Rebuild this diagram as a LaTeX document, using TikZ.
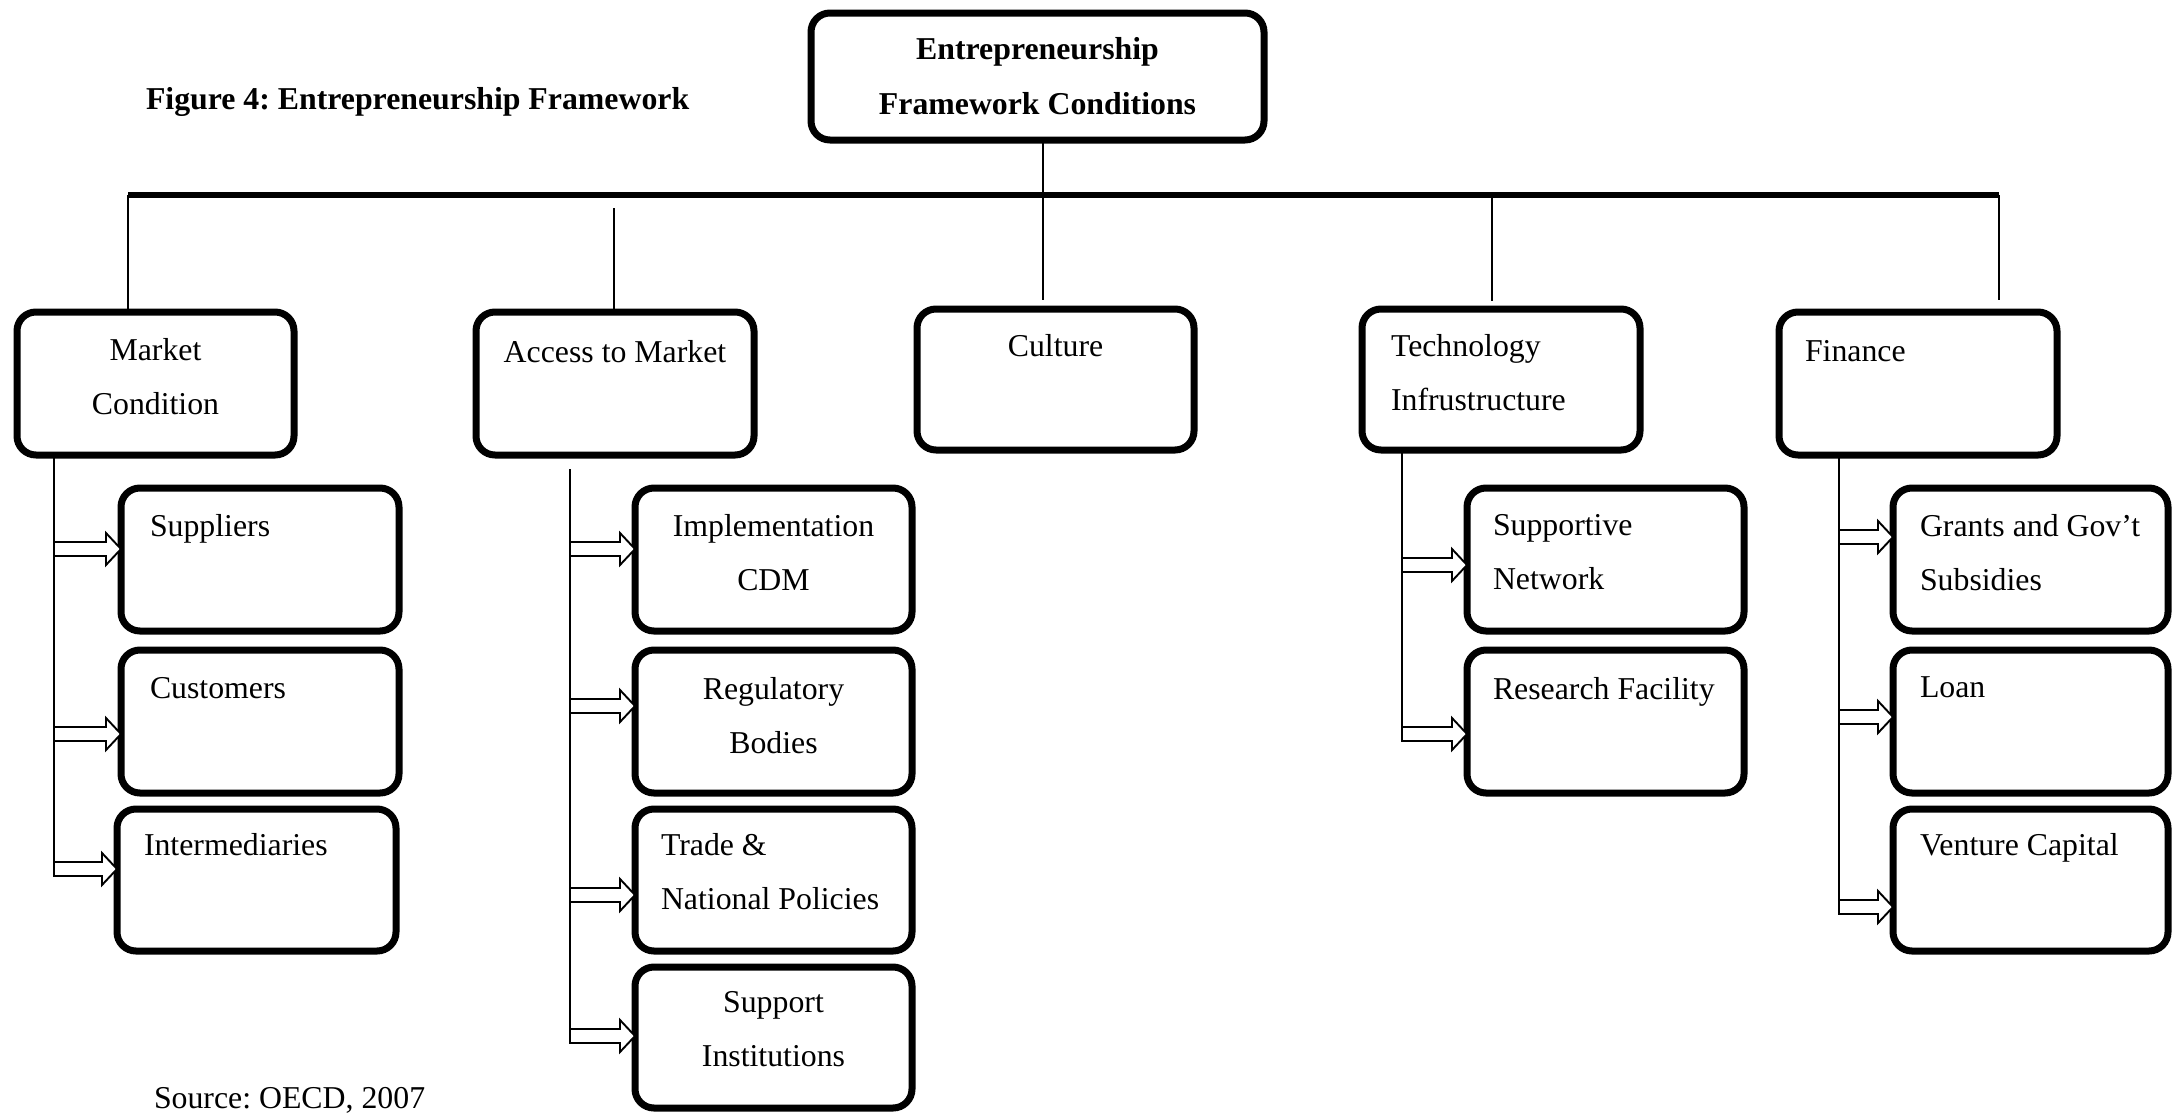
\documentclass[tikz,border=0pt]{standalone}
\usepackage{fontspec}
\setmainfont{Liberation Serif}
\usetikzlibrary{calc}
\frenchspacing
\tikzset{
  box/.style={draw, line width=7pt, rounded corners=19pt, inner sep=0pt, outer sep=0pt, anchor=north west},
  txt/.style={inner sep=0pt, outer sep=0pt, font=\fontsize{31.8}{54}\selectfont},
  conn/.style={line width=2pt},
  busline/.style={line width=5.5pt},
  arr/.style={draw, line width=1.9pt, fill=white, line join=miter},
}
\newcommand\bx[5]{\node[box, minimum width=#4pt, minimum height=#5pt] (#1) at (#2,#3) {};}
\newcommand\harrow[3]{%
  \coordinate (ay) at (0,#3);
  \coordinate (tip) at (#2.west |- ay);
  \draw[arr] ($(#1 |- ay)+(0,-7)$) -- ($(tip)+(-15,-7)$) -- ($(tip)+(-15,-16)$) -- (tip)
    -- ($(tip)+(-15,16)$) -- ($(tip)+(-15,7)$) -- ($(#1 |- ay)+(0,7)$) -- cycle;}
\begin{document}
\begin{tikzpicture}[x=1pt,y=-1pt]
\useasboundingbox (0,0) rectangle (2174,1114);
\clip (0,0) rectangle (2174,1114);

% title
\node[txt, anchor=north west, font=\fontsize{31.8}{54}\selectfont\bfseries] (title) at (146,87) {Figure 4: Entrepreneurship Framework};

% top box
\bx{top}{811}{13}{453}{127}
\node[txt, anchor=north, align=center, font=\fontsize{31.8}{55}\selectfont\bfseries] (topt) at (1037.5,37) {Entrepreneurship\\Framework Conditions};

% level 1 boxes
\bx{mc}{17}{312}{277}{143}
\bx{am}{476}{312}{278}{143}
\bx{cu}{917}{309}{277}{141}
\bx{ti}{1362}{309}{278}{141}
\bx{fi}{1779}{312}{278}{143}
\node[txt, anchor=north, align=center] (mct) at (155.5,338) {Market\\Condition};
\node[txt, anchor=north] (amt) at (615,340) {Access to Market};
\node[txt, anchor=north] (cut) at (1055.5,334) {Culture};
\node[txt, anchor=north west, align=left] (tit) at (1391,334) {Technology\\Infrustructure};
\node[txt, anchor=north west] (fit) at (1805,340) {Finance};

% level 2 boxes
\bx{su}{121}{488}{278}{143}
\bx{cus}{121}{650}{278}{143}
\bx{in}{117}{809}{279}{142}
\bx{im}{635}{488}{277}{143}
\bx{rb}{635}{650}{277}{143}
\bx{tn}{635}{809}{277}{142}
\bx{si}{635}{967}{277}{141}
\bx{sn}{1467}{488}{277}{143}
\bx{rf}{1467}{650}{277}{143}
\bx{gg}{1893}{488}{275}{143}
\bx{lo}{1893}{650}{275}{143}
\bx{vc}{1893}{809}{275}{142}

\node[txt, anchor=north west] (sut) at (150,514) {Suppliers};
\node[txt, anchor=north west] (cust) at (150,677) {Customers};
\node[txt, anchor=north west] (intx) at (144,833) {Intermediaries};
\node[txt, anchor=north, align=center] (imt) at (773.5,514) {Implementation\\CDM};
\node[txt, anchor=north, align=center] (rbt) at (773.5,677) {Regulatory\\Bodies};
\node[txt, anchor=north west, align=left] (tnt) at (661,833) {Trade \&\\National Policies};
\node[txt, anchor=north, align=center] (sit) at (773.5,991) {Support\\Institutions};
\node[txt, anchor=north west, align=left] (snt) at (1493,514) {Supportive\\Network};
\node[txt, anchor=north west] (rft) at (1493,677) {Research Facility};
\node[txt, anchor=north west, align=left] (ggt) at (1920,514) {Grants and Gov’t\\Subsidies};
\node[txt, anchor=north west] (lot) at (1920,677) {Loan};
\node[txt, anchor=north west] (vct) at (1920,833) {Venture Capital};

% source
\node[txt, anchor=north west] (src) at (154,1087) {Source: OECD, 2007};

% bus and drops
\coordinate (busL) at (128,195);
\coordinate (busR) at (1999,195);
\coordinate (d0) at (1043,195);
\coordinate (d2) at (614,195);
\coordinate (d3) at (1492,195);
\draw[busline] (busL) -- (busR);
\draw[conn] (top.south -| d0) -- (d0);
\draw[conn, shorten >=9pt] (d0) -- (d0 |- cu.north);
\draw[conn] (busL) -- (busL |- mc.north);
\draw[conn, shorten <=13pt] (d2) -- (d2 |- am.north);
\draw[conn, shorten <=3pt, shorten >=8pt] (d3) -- (d3 |- ti.north);
\draw[conn, shorten >=12pt] (busR) -- (busR |- fi.north);

% column lines
\coordinate (mcb) at (54,876);
\coordinate (amb) at (570,1043);
\coordinate (tib) at (1402,741);
\coordinate (fib) at (1839,914);
\draw[conn] (mcb |- mc.south) -- (mcb);
\draw[conn, shorten <=14pt] (amb |- am.south) -- (amb);
\draw[conn] (tib |- ti.south) -- (tib);
\draw[conn] (fib |- fi.south) -- (fib);

% arrows
\harrow{mcb}{su}{549}
\harrow{mcb}{cus}{734}
\harrow{mcb}{in}{869}
\harrow{amb}{im}{549}
\harrow{amb}{rb}{706}
\harrow{amb}{tn}{895}
\harrow{amb}{si}{1036}
\harrow{tib}{sn}{565}
\harrow{tib}{rf}{734}
\harrow{fib}{gg}{537}
\harrow{fib}{lo}{717}
\harrow{fib}{vc}{907}
\end{tikzpicture}
\end{document}
